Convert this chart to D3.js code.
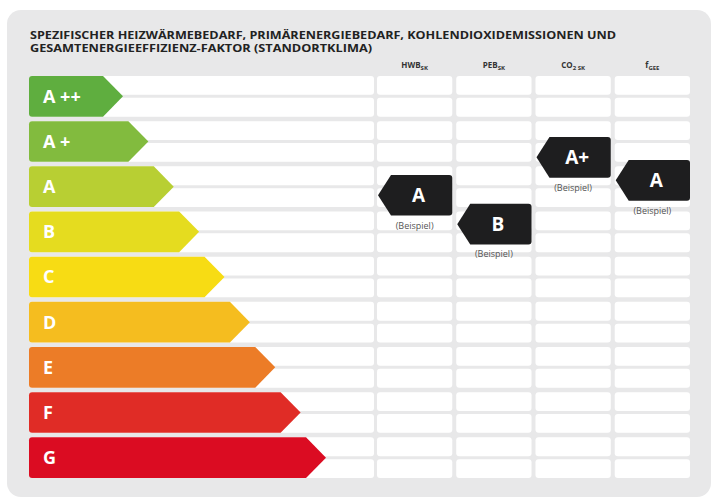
<!DOCTYPE html>
<html>
<head>
<meta charset="utf-8">
<script src="https://cdn.jsdelivr.net/npm/d3@7"></script>
<style>
  body { margin: 0; background: #fff; }
  text { font-family: "Open Sans", "DejaVu Sans", sans-serif; }
</style>
</head>
<body>
<div id="chart"></div>
<script>
// Energy classes, top to bottom
var classes = ["A ++", "A +", "A", "B", "C", "D", "E", "F", "G"];
var classColors = ["#5fae3f", "#82bb3e", "#b8cf33", "#e5dc1f", "#f7dc14", "#f5bd1f", "#ec7c27", "#e02c26", "#db0c22"];

// Indicator columns
var columns = ["HWB", "PEB", "CO2", "fGEE"];
var columnMain = ["HWB", "PEB", "CO", "f"];
var columnSub = ["SK", "SK", "2 SK", "GEE"];

// Example rating per column, and its vertical position (in class units from the top)
var markerLabels = ["A", "B", "A+", "A"];
var markerPos = [2.19, 2.83, 1.35, 1.86];

var titleLines = [
    "SPEZIFISCHER HEIZWÄRMEBEDARF, PRIMÄRENERGIEBEDARF, KOHLENDIOXIDEMISSIONEN UND",
    "GESAMTENERGIEEFFIZIENZ-FAKTOR (STANDORTKLIMA)"
];

var width = 720, height = 502;

var svg = d3.select("#chart").append("svg")
    .attr("width", width)
    .attr("height", height);

// grey panel
svg.append("rect")
   .attr("x", 7).attr("y", 10)
   .attr("width", 704).attr("height", 487)
   .attr("rx", 14)
   .style("fill", "#e8e8e9");

// title
svg.selectAll(".title")
   .data(titleLines)
   .enter().append("text")
   .attr("class", "title")
   .attr("x", 30)
   .attr("y", function(d, i) { return 38.5 + i * 13.8; })
   .attr("textLength", function(d, i) { return i === 0 ? 586 : 342; })
   .attr("lengthAdjust", "spacingAndGlyphs")
   .style("font-size", "10px")
   .style("font-weight", "bold")
   .style("fill", "#222")
   .text(function(d) { return d; });

// Scales
var yBand = d3.scaleBand().domain(classes).range([76, 478]).paddingInner(0.1);
var yPos = d3.scaleLinear().domain([0, classes.length]).range([76, 76 + classes.length * yBand.step()]);
var tipX = d3.scaleLinear().domain([0, classes.length - 1]).range([123, 326]);
var xCol = d3.scaleBand().domain(columns).range([377, 690]).paddingInner(0.05);

var bw = yBand.bandwidth();
var rowGap = 3;
var rowH = (bw - rowGap) / 2;

// white rows: main area + one per column
var rowData = [];
classes.forEach(function(c) {
    [0, 1].forEach(function(h) { rowData.push({ cls: c, half: h }); });
});
var areas = [{ x: 29, w: 345 }].concat(columns.map(function(col) {
    return { x: xCol(col), w: xCol.bandwidth() };
}));

areas.forEach(function(a) {
    svg.append("g").selectAll("rect")
       .data(rowData)
       .enter().append("rect")
       .attr("x", a.x)
       .attr("y", function(d) { return yBand(d.cls) + d.half * (rowH + rowGap); })
       .attr("width", a.w)
       .attr("height", rowH)
       .attr("rx", 3)
       .style("fill", "#fff");
});

// class arrows
function barPath(i) {
    var x0 = 29, r = 3, depth = 20;
    var y0 = yBand(classes[i]), y1 = y0 + bw, ym = y0 + bw / 2;
    var t = tipX(i);
    return "M" + (x0 + r) + "," + y0 +
           "L" + (t - depth) + "," + y0 +
           "L" + t + "," + ym +
           "L" + (t - depth) + "," + y1 +
           "L" + (x0 + r) + "," + y1 +
           "Q" + x0 + "," + y1 + " " + x0 + "," + (y1 - r) +
           "L" + x0 + "," + (y0 + r) +
           "Q" + x0 + "," + y0 + " " + (x0 + r) + "," + y0 + "Z";
}

var bars = svg.append("g").selectAll("g")
    .data(classes)
    .enter().append("g");

bars.append("path")
    .attr("d", function(d, i) { return barPath(i); })
    .style("fill", function(d, i) { return classColors[i]; });

bars.append("text")
    .attr("x", 43)
    .attr("y", function(d) { return yBand(d) + bw / 2; })
    .attr("dy", "0.36em")
    .style("font-size", "18px")
    .style("font-weight", "bold")
    .style("fill", "#fff")
    .text(function(d) { return d; });

// column headers
var headers = svg.append("g").selectAll("text")
    .data(columns)
    .enter().append("text")
    .attr("x", function(d) { return xCol(d) + xCol.bandwidth() / 2; })
    .attr("y", 68)
    .attr("text-anchor", "middle")
    .style("font-size", "8px")
    .style("font-weight", "bold")
    .style("fill", "#333");
headers.append("tspan").text(function(d, i) { return columnMain[i]; });
headers.append("tspan")
    .attr("dy", 2)
    .style("font-size", "6px")
    .text(function(d, i) { return columnSub[i]; });

// example markers
function markerPath(i) {
    var x0 = xCol(columns[i]) + 1, x1 = xCol(columns[i]) + xCol.bandwidth(), r = 3, depth = 13;
    var y0 = yPos(markerPos[i]), y1 = y0 + bw, ym = y0 + bw / 2;
    return "M" + (x0 + depth) + "," + y0 +
           "L" + (x1 - r) + "," + y0 +
           "Q" + x1 + "," + y0 + " " + x1 + "," + (y0 + r) +
           "L" + x1 + "," + (y1 - r) +
           "Q" + x1 + "," + y1 + " " + (x1 - r) + "," + y1 +
           "L" + (x0 + depth) + "," + y1 +
           "L" + x0 + "," + ym + "Z";
}

var markers = svg.append("g").selectAll("g")
    .data(columns)
    .enter().append("g");

markers.append("path")
    .attr("d", function(d, i) { return markerPath(i); })
    .style("fill", "#1e1e1f");

markers.append("text")
    .attr("x", function(d) { return xCol(d) + xCol.bandwidth() / 2 + 4; })
    .attr("y", function(d, i) { return yPos(markerPos[i]) + bw / 2; })
    .attr("dy", "0.36em")
    .attr("text-anchor", "middle")
    .style("font-size", "19px")
    .style("font-weight", "bold")
    .style("fill", "#fff")
    .text(function(d, i) { return markerLabels[i]; });

markers.append("text")
    .attr("x", function(d) { return xCol(d) + xCol.bandwidth() / 2; })
    .attr("y", function(d, i) { return yPos(markerPos[i]) + bw + 13; })
    .attr("text-anchor", "middle")
    .style("font-size", "9px")
    .style("fill", "#555")
    .text("(Beispiel)");
</script>
</body>
</html>
